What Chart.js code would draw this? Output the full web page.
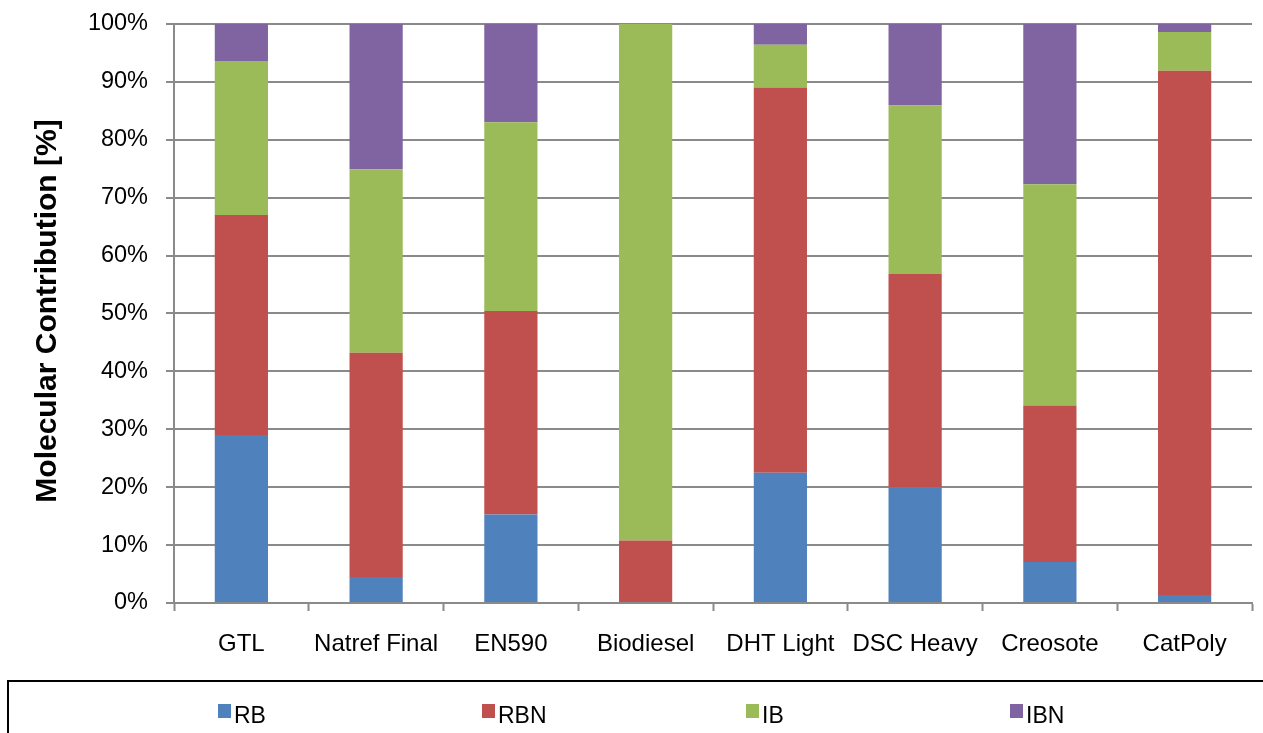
<!DOCTYPE html>
<html>
<head>
<meta charset="utf-8">
<script src="https://cdn.jsdelivr.net/npm/chart.js@4/dist/chart.umd.min.js"></script>
<style>
  html, body { margin: 0; padding: 0; background: #ffffff; }
  #wrap { width: 1263px; height: 733px; position: relative; }
</style>
</head>
<body>
<div id="wrap"><canvas id="c" width="1263" height="733"></canvas></div>
<script>
// Fuel samples and their molecular breakdown (percent of total)
const categories = ['GTL', 'Natref Final', 'EN590', 'Biodiesel', 'DHT Light', 'DSC Heavy', 'Creosote', 'CatPoly'];
const RB  = [29.0,  4.5, 15.3,  0.0, 22.5, 20.0,  7.1,  1.4];
const RBN = [38.0, 38.7, 35.1, 10.8, 66.5, 36.8, 27.0, 90.5];
const IB  = [26.6, 31.7, 32.6, 89.2,  7.4, 29.1, 38.2,  6.7];
const IBN = [ 6.4, 25.1, 17.0,  0.0,  3.6, 14.1, 27.7,  1.4];
const yTicks = [0, 10, 20, 30, 40, 50, 60, 70, 80, 90, 100];

const seriesNames = ['RB', 'RBN', 'IB', 'IBN'];
const seriesColors = ['#4F81BD', '#C0504D', '#9BBB59', '#8064A2'];
const seriesData = [RB, RBN, IB, IBN];

const FONT = '"Liberation Sans", Arial, sans-serif';
const GRID = '#8a8a8a';

// Y-axis title and boxed legend below the plot
const decorations = {
  id: 'decorations',
  afterDraw(chart) {
    const ctx = chart.ctx;
    ctx.save();
    // axis title
    ctx.translate(48, 311);
    ctx.rotate(-Math.PI / 2);
    ctx.fillStyle = '#000';
    ctx.font = 'bold 30px ' + FONT;
    ctx.textAlign = 'center';
    ctx.textBaseline = 'middle';
    ctx.fillText('Molecular Contribution [%]', 0, 0);
    ctx.restore();

    // legend frame
    ctx.save();
    ctx.strokeStyle = '#000';
    ctx.lineWidth = 2;
    ctx.beginPath();
    ctx.moveTo(8, 740);
    ctx.lineTo(8, 681);
    ctx.lineTo(1270, 681);
    ctx.stroke();

    // legend entries
    ctx.font = '23px ' + FONT;
    ctx.textBaseline = 'alphabetic';
    ctx.textAlign = 'left';
    chart.data.datasets.forEach((ds, i) => {
      const x = 218 + i * 264;
      ctx.fillStyle = ds.backgroundColor;
      ctx.fillRect(x, 704, 13, 14);
      ctx.fillStyle = '#000';
      ctx.fillText(ds.label, x + 16, 723);
    });
    ctx.restore();
  }
};

new Chart(document.getElementById('c'), {
  type: 'bar',
  data: {
    labels: categories,
    datasets: seriesNames.map((name, i) => ({
      label: name,
      data: seriesData[i],
      backgroundColor: seriesColors[i],
      borderWidth: 0,
      barPercentage: 0.395,
      categoryPercentage: 1.0
    }))
  },
  options: {
    responsive: false,
    animation: false,
    devicePixelRatio: 1,
    layout: { padding: { top: 22, right: 11, left: 0, bottom: 0 } },
    plugins: {
      legend: { display: false },
      tooltip: { enabled: false },
      title: { display: false }
    },
    scales: {
      x: {
        stacked: true,
        offset: true,
        grid: {
          offset: true,
          drawOnChartArea: false,
          drawTicks: true,
          tickLength: 8,
          tickColor: GRID,
          tickWidth: 2
        },
        border: { display: true, color: GRID, width: 2 },
        ticks: {
          color: '#000',
          font: { family: FONT, size: 24 },
          padding: 19,
          maxRotation: 0,
          autoSkip: false
        },
        afterFit(scale) { scale.height = 130; }
      },
      y: {
        stacked: true,
        min: 0,
        max: 100,
        afterBuildTicks(scale) { scale.ticks = yTicks.map(v => ({ value: v })); },
        grid: {
          color: GRID,
          lineWidth: 2,
          drawTicks: true,
          tickLength: 8,
          tickColor: GRID
        },
        border: { display: true, color: GRID, width: 2 },
        ticks: {
          color: '#000',
          font: { family: FONT, size: 23.5, lineHeight: 0.5 },
          padding: 18,
          callback: v => v + '%'
        },
        afterFit(scale) { scale.width = 174; }
      }
    }
  },
  plugins: [decorations]
});
</script>
</body>
</html>
